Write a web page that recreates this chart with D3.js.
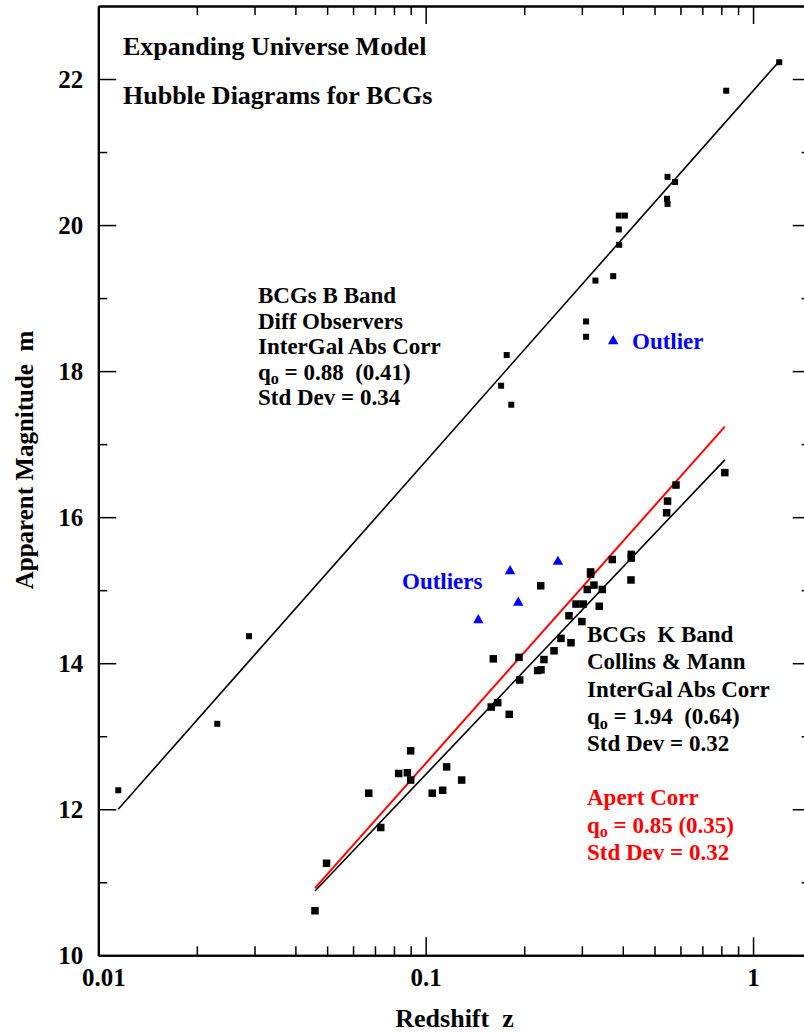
<!DOCTYPE html>
<html>
<head>
<meta charset="utf-8">
<script src="https://cdn.jsdelivr.net/npm/d3@7"></script>
<style>
  html, body { margin: 0; padding: 0; background: #fff; }
  svg { display: block; }
  text { font-family: "Liberation Serif", "Times New Roman", serif; font-weight: bold; white-space: pre; }
</style>
</head>
<body>
<svg id="chart" width="804" height="1034"></svg>
<script>
// ---------------- DATA ----------------
const xDomain = [0.01, 1.5];
const yDomain = [10, 23];

const xMajorTicks = [0.01, 0.1, 1];
const xTickLabels = ["0.01", "0.1", "1"];
const xMinorTicks = [0.02,0.03,0.04,0.05,0.06,0.07,0.08,0.09,0.2,0.3,0.4,0.5,0.6,0.7,0.8,0.9];
const yMajorTicks = [10, 12, 14, 16, 18, 20, 22];
const yTickLabels = ["10", "12", "14", "16", "18", "20", "22"];
const yMinorTicks = [11, 13, 15, 17, 19, 21];

// B band BCGs (different observers)
const bBandZ = [0.01151, 0.02309, 0.02886, 0.170, 0.1768, 0.1826, 0.309, 0.309, 0.330, 0.374,
                0.389, 0.390, 0.389, 0.406, 0.546, 0.548, 0.548, 0.578, 0.828, 1.202];
const bBandM = [12.26, 13.17, 14.37, 17.80, 18.22, 17.54, 18.68, 18.47, 19.24, 19.30,
                19.94, 19.73, 20.13, 20.13, 20.36, 20.29, 20.66, 20.59, 21.84, 22.23];
const bOutlierZ = [0.374];
const bOutlierM = [18.41];

// K band BCGs (Collins & Mann)
const kBandZ = [0.0459, 0.0498, 0.0670, 0.0729, 0.0827, 0.0879, 0.0900, 0.0900, 0.1047, 0.1127,
                0.1159, 0.1288, 0.1586, 0.1609, 0.1660, 0.1800, 0.1928, 0.1937, 0.2198, 0.2246,
                0.2250, 0.2298, 0.2466, 0.2590, 0.2740, 0.2779, 0.2878, 0.3000, 0.3029, 0.3116,
                0.3190, 0.3190, 0.3266, 0.3390, 0.3463, 0.3715, 0.4238, 0.4246, 0.4246, 0.5447,
                0.5480, 0.5815, 0.8200];
const kBandM = [10.61, 11.26, 12.22, 11.75, 12.49, 12.50, 12.80, 12.40, 12.22, 12.26,
                12.58, 12.40, 13.40, 14.06, 13.46, 13.30, 14.08, 13.77, 13.90, 15.06,
                13.91, 14.05, 14.17, 14.34, 14.65, 14.28, 14.81, 14.57, 14.81, 15.01,
                15.25, 15.22, 15.07, 14.78, 15.01, 15.42, 15.14, 15.49, 15.44, 16.06,
                16.22, 16.44, 16.61];
const kOutlierZ = [0.1448, 0.181, 0.1918, 0.2535];
const kOutlierM = [14.59, 15.26, 14.83, 15.39];

// model fits
const bFitZ = [0.0115, 1.195];
const bFitM = [12.00, 22.23];
const kFitZ = [0.0459, 0.820];
const kFitM = [10.88, 16.785];
const kApertFitZ = [0.0459, 0.820];
const kApertFitM = [10.92, 17.24];

// annotations
const titleLines = ["Expanding Universe Model", "Hubble Diagrams for BCGs"];
const bBandNotes = ["BCGs B Band", "Diff Observers", "InterGal Abs Corr", ["q", "o", " = 0.88  (0.41)"], "Std Dev = 0.34"];
const kBandNotes = ["BCGs  K Band", "Collins & Mann", "InterGal Abs Corr", ["q", "o", " = 1.94  (0.64)"], "Std Dev = 0.32"];
const apertNotes = ["Apert Corr", ["q", "o", " = 0.85 (0.35)"], "Std Dev = 0.32"];
const xTitle = "Redshift  z";
const yTitle = "Apparent Magnitude  m";

// ---------------- DRAW ----------------
const svg = d3.select("#chart");
const L = 98.3, R = 810.7, T = 6, B = 955.3;

const x = d3.scaleLog().domain(xDomain).range([L, R]);
const y = d3.scaleLinear().domain(yDomain).range([B, T]);

function styleAxis(g, width) {
  g.select(".domain").attr("stroke", "#000").attr("stroke-width", width);
  g.selectAll(".tick line").attr("stroke", "#000").attr("stroke-width", 1.5);
}

// minor ticks
svg.append("g").attr("transform", `translate(0,${B})`)
  .call(d3.axisBottom(x).tickValues(xMinorTicks).tickSize(-9).tickSizeOuter(0).tickFormat(""))
  .call(g => styleAxis(g, 2));
svg.append("g").attr("transform", `translate(0,${T})`)
  .call(d3.axisTop(x).tickValues(xMinorTicks).tickSize(-9).tickSizeOuter(0).tickFormat(""))
  .call(g => styleAxis(g, 2));
svg.append("g").attr("transform", `translate(${L},0)`)
  .call(d3.axisLeft(y).tickValues(yMinorTicks).tickSize(-9).tickSizeOuter(0).tickFormat(""))
  .call(g => styleAxis(g, 2));
svg.append("g").attr("transform", `translate(${R},0)`)
  .call(d3.axisRight(y).tickValues(yMinorTicks).tickSize(-9).tickSizeOuter(0).tickFormat(""))
  .call(g => styleAxis(g, 2));

// major ticks with labels
const xAxisB = svg.append("g").attr("transform", `translate(0,${B})`)
  .call(d3.axisBottom(x).tickValues(xMajorTicks).tickSize(-18).tickSizeOuter(0).tickPadding(13)
        .tickFormat((d, i) => xTickLabels[i]))
  .call(g => styleAxis(g, 2));
xAxisB.selectAll("text").attr("font-size", 25).attr("fill", "#000")
  .attr("font-family", '"Liberation Serif", serif').attr("font-weight", "bold")
  .attr("dx", (d, i) => i === 0 ? 5 : 0);
svg.append("g").attr("transform", `translate(0,${T})`)
  .call(d3.axisTop(x).tickValues(xMajorTicks).tickSize(-18).tickSizeOuter(0).tickFormat(""))
  .call(g => styleAxis(g, 2));
const yAxisL = svg.append("g").attr("transform", `translate(${L},0)`)
  .call(d3.axisLeft(y).tickValues(yMajorTicks).tickSize(-18).tickSizeOuter(0).tickPadding(15)
        .tickFormat((d, i) => yTickLabels[i]))
  .call(g => styleAxis(g, 2));
yAxisL.selectAll("text").attr("font-size", 25).attr("fill", "#000")
  .attr("font-family", '"Liberation Serif", serif').attr("font-weight", "bold");
svg.append("g").attr("transform", `translate(${R},0)`)
  .call(d3.axisRight(y).tickValues(yMajorTicks).tickSize(-18).tickSizeOuter(0).tickFormat(""))
  .call(g => styleAxis(g, 2));

// fit lines
const line = d3.line().x(d => x(d[0])).y(d => y(d[1]));
function drawFit(zs, ms, color, w) {
  svg.append("path").datum(zs.map((z, i) => [z, ms[i]]))
    .attr("d", line).attr("fill", "none").attr("stroke", color).attr("stroke-width", w);
}
drawFit(bFitZ, bFitM, "#000", 1.6);
drawFit(kFitZ, kFitM, "#000", 1.6);
drawFit(kApertFitZ, kApertFitM, "#ff0000", 2);

// squares
function drawSquares(zs, ms, size) {
  svg.append("g").selectAll("rect").data(zs.map((z, i) => [z, ms[i]])).join("rect")
    .attr("x", d => x(d[0]) - size / 2).attr("y", d => y(d[1]) - size / 2)
    .attr("width", size).attr("height", size).attr("fill", "#000");
}
drawSquares(bBandZ, bBandM, 6);
drawSquares(kBandZ, kBandM, 7.5);

// triangles
const tri = d3.symbol().type(d3.symbolTriangle).size(48);
function drawTriangles(zs, ms) {
  svg.append("g").selectAll("path").data(zs.map((z, i) => [z, ms[i]])).join("path")
    .attr("d", tri).attr("transform", d => `translate(${x(d[0])},${y(d[1])})`)
    .attr("fill", "#0000ff");
}
drawTriangles(bOutlierZ, bOutlierM);
drawTriangles(kOutlierZ, kOutlierM);

// text helpers
function textBlock(lines, x0, y0, dy, size, color) {
  lines.forEach((ln, i) => {
    const t = svg.append("text").attr("x", x0).attr("y", y0 + i * dy)
      .attr("font-size", size).attr("fill", color);
    if (Array.isArray(ln)) {
      t.append("tspan").text(ln[0]);
      t.append("tspan").attr("font-size", size * 0.7).attr("dy", size * 0.2).text(ln[1]);
      t.append("tspan").attr("dy", -size * 0.2).text(ln[2]);
    } else {
      t.text(ln);
    }
  });
}
textBlock(titleLines, 123, 55, 49, 26, "#000");
textBlock(bBandNotes, 258, 303, 25.6, 23, "#000");
textBlock(kBandNotes, 587, 642, 27.3, 23, "#000");
textBlock(apertNotes, 587, 805, 27.5, 23, "#ff0000");

svg.append("text").attr("x", 632).attr("y", 349).attr("font-size", 23).attr("fill", "#0000ff").text("Outlier");
svg.append("text").attr("x", 402).attr("y", 589).attr("font-size", 23).attr("fill", "#0000ff").text("Outliers");

// axis titles
svg.append("text").attr("x", (L + R) / 2).attr("y", 1027).attr("text-anchor", "middle")
  .attr("font-size", 26).attr("fill", "#000").text(xTitle);
svg.append("text").attr("transform", `translate(33,460) rotate(-90)`)
  .attr("text-anchor", "middle").attr("font-size", 25).attr("fill", "#000").text(yTitle);
</script>
</body>
</html>
